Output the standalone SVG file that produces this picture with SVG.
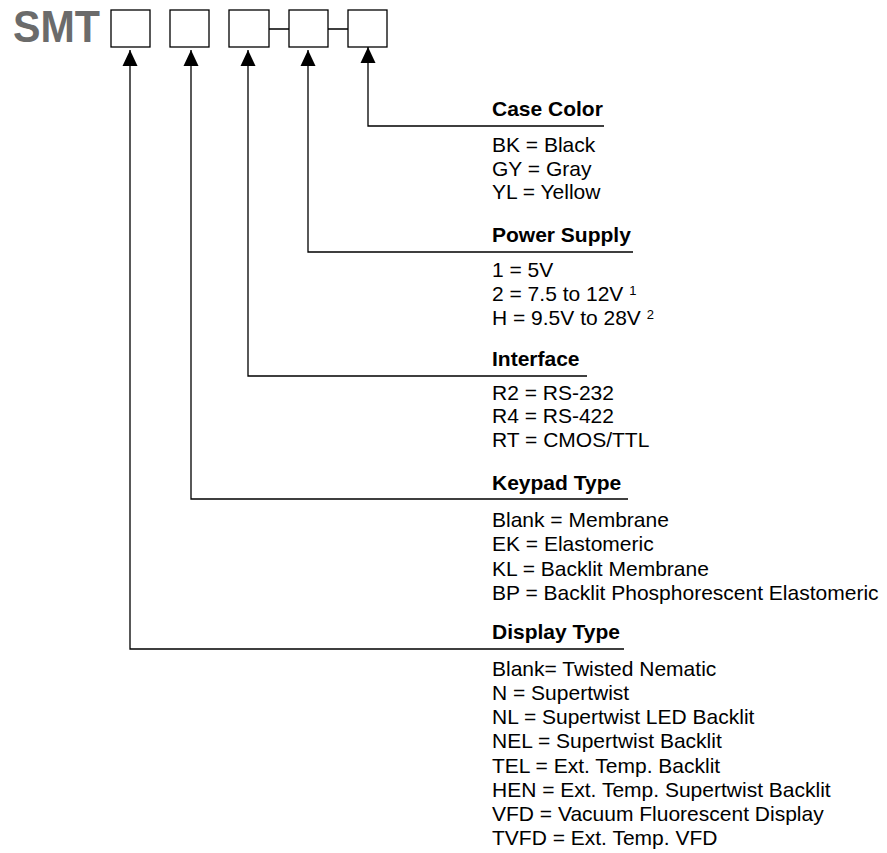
<svg xmlns="http://www.w3.org/2000/svg" width="887" height="853" viewBox="0 0 887 853">
<style>
.box{fill:#fff;stroke:#000;stroke-width:1.3}
.ln{fill:none;stroke:#000;stroke-width:1.3}
.t{font-family:"Liberation Sans",Arial,sans-serif;font-size:21px;fill:#000}
.h{font-weight:bold}
.sup{font-size:13px}
.smt{font-family:"Liberation Sans",Arial,sans-serif;font-size:44px;font-weight:bold;fill:#6b6b6b}
</style>
<defs>
<marker id="ah" markerUnits="userSpaceOnUse" markerWidth="16" markerHeight="16" viewBox="0 0 16 16" refX="16" refY="8" orient="auto">
<path d="M0,0.5 L16,8 L0,15.5 Z" fill="#000"/>
</marker>
</defs>
<rect width="887" height="853" fill="#fff"/>
<g id="title"><text class="smt" x="13" y="42" textLength="87" lengthAdjust="spacingAndGlyphs">SMT</text></g>
<g id="boxes">
<rect id="box1" class="box" x="111" y="10" width="39" height="37"/>
<rect id="box2" class="box" x="170" y="10" width="39" height="37"/>
<rect id="box3" class="box" x="229" y="10" width="40" height="37"/>
<rect id="box4" class="box" x="289" y="10" width="39" height="37"/>
<rect id="box5" class="box" x="348" y="10" width="39" height="37"/>
<path class="ln" d="M269,29 H289 M328,29 H348"/>
</g>
<g id="connectors">
<path class="ln" d="M604,126 H368 V47" marker-end="url(#ah)"/>
<path class="ln" d="M633,252 H308 V50" marker-end="url(#ah)"/>
<path class="ln" d="M587,376 H248 V50" marker-end="url(#ah)"/>
<path class="ln" d="M628,499 H191 V50" marker-end="url(#ah)"/>
<path class="ln" d="M624,649 H130 V50" marker-end="url(#ah)"/>
</g>
<g id="case-color" class="t">
<text class="h" x="492" y="116">Case Color</text>
<text x="492" y="152">BK = Black</text>
<text x="492" y="176">GY = Gray</text>
<text x="492" y="199">YL = Yellow</text>
</g>
<g id="power-supply" class="t">
<text class="h" x="492" y="242">Power Supply</text>
<text x="492" y="277">1 = 5V</text>
<text x="492" y="301">2 = 7.5 to 12V <tspan class="sup" dy="-6">1</tspan></text>
<text x="492" y="325">H = 9.5V to 28V <tspan class="sup" dy="-6">2</tspan></text>
</g>
<g id="interface" class="t">
<text class="h" x="492" y="366">Interface</text>
<text x="492" y="400">R2 = RS-232</text>
<text x="492" y="423">R4 = RS-422</text>
<text x="492" y="447">RT = CMOS/TTL</text>
</g>
<g id="keypad-type" class="t">
<text class="h" x="492" y="490">Keypad Type</text>
<text x="492" y="527">Blank = Membrane</text>
<text x="492" y="551">EK = Elastomeric</text>
<text x="492" y="576">KL = Backlit Membrane</text>
<text x="492" y="600">BP = Backlit Phosphorescent Elastomeric</text>
</g>
<g id="display-type" class="t">
<text class="h" x="492" y="639">Display Type</text>
<text x="492" y="676">Blank= Twisted Nematic</text>
<text x="492" y="700">N = Supertwist</text>
<text x="492" y="724">NL = Supertwist LED Backlit</text>
<text x="492" y="748">NEL = Supertwist Backlit</text>
<text x="492" y="773">TEL = Ext. Temp. Backlit</text>
<text x="492" y="797">HEN = Ext. Temp. Supertwist Backlit</text>
<text x="492" y="821">VFD = Vacuum Fluorescent Display</text>
<text x="492" y="845">TVFD = Ext. Temp. VFD</text>
</g>
</svg>
